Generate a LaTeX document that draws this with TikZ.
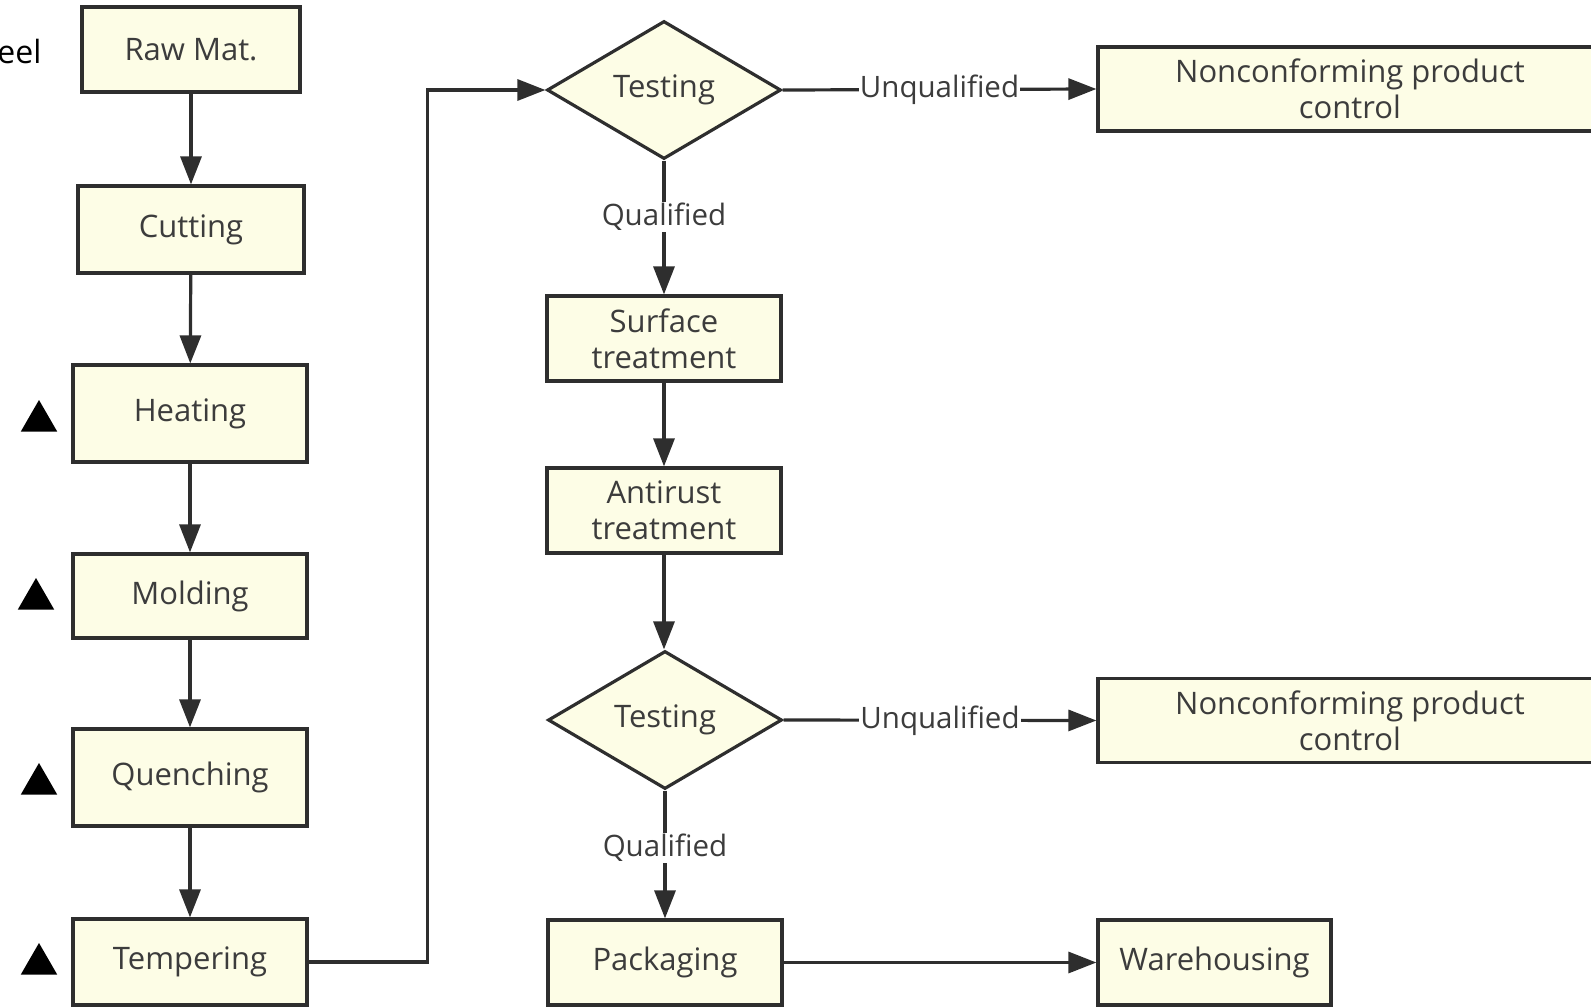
\documentclass[tikz,border=0pt]{standalone}
\usepackage{fontspec}
\setmainfont{Open Sans}
\usepackage{xcolor}
\usetikzlibrary{positioning, arrows.meta, shapes.geometric}
\definecolor{pFill}{HTML}{FDFDE6}
\definecolor{pLine}{HTML}{2E2E2E}
\definecolor{pInk}{HTML}{3C3C3C}
\tikzset{
  procbox/.style={draw=pLine, line width=3.2pt, fill=pFill, inner sep=2pt,
    align=center, text=pInk, font=\fontsize{31}{36}\selectfont},
  checkbox/.style={procbox, diamond, aspect=1.7, minimum width=234pt, minimum height=138pt, inner sep=0pt},
  flowlbl/.style={fill=white, inner sep=1pt, text=pInk, font=\fontsize{29.5}{34}\selectfont},
  keymark/.style={regular polygon, regular polygon sides=3, fill=black, minimum size=42pt, inner sep=0pt},
}

\begin{document}
\begin{tikzpicture}[x=1pt, y=-1pt, >={Triangle[length=28pt, width=21pt]},
    arr/.style={->, line width=3.2pt, draw=pLine}]
  \useasboundingbox (0,0) rectangle (1591,1007);
  % forming line
  \node[anchor=east, font=\fontsize{32}{38}\selectfont] (steel) at (45,51) {Steel};
  \node[procbox, minimum width=218pt, minimum height=85pt] (raw) at (191,49.5) {Raw Mat.};
  \node[procbox, minimum width=226pt, minimum height=87pt] (cut) at (191,229.5) {Cutting};
  \node[procbox, minimum width=234pt, minimum height=97pt] (heat) at (190,413.5) {Heating};
  \node[procbox, minimum width=234pt, minimum height=84pt] (mold) at (190,596) {Molding};
  \node[procbox, minimum width=234pt, minimum height=97pt] (quench) at (190,777.5) {Quenching};
  \node[procbox, minimum width=234pt, minimum height=86pt] (temper) at (190,962) {Tempering};
  \node[keymark] (k1) at (39,421) {};
  \node[keymark] (k2) at (36,599) {};
  \node[keymark] (k3) at (39,784) {};
  \node[keymark] (k4) at (39,964) {};
  % inspection line
  \node[checkbox] (test1) at (664,90) {Testing};
  \node[procbox, minimum width=234pt, minimum height=85pt] (surf) at (664,338.5) {Surface\\treatment};
  \node[procbox, minimum width=234pt, minimum height=85pt] (rust) at (664,510.5) {Antirust\\treatment};
  \node[checkbox] (test2) at (665,720) {Testing};
  \node[procbox, minimum width=234pt, minimum height=85pt] (pack) at (665,962.5) {Packaging};
  \node[procbox, minimum width=504pt, minimum height=84pt] (nc1) at (1350,89) {Nonconforming product\\control};
  \node[procbox, minimum width=504pt, minimum height=84pt] (nc2) at (1350,720.5) {Nonconforming product\\control};
  \node[procbox, minimum width=233pt, minimum height=85pt] (store) at (1214.5,962.5) {Warehousing};
  \draw[arr] (raw) -- (cut);
  \draw[arr] (cut) -- (heat);
  \draw[arr] (heat) -- (mold);
  \draw[arr] (mold) -- (quench);
  \draw[arr] (quench) -- (temper);
  \draw[arr] (temper.east) -- ++(119,0) |- (test1.west);
  \draw[arr] (test1.east) -- (nc1.west) node[flowlbl, pos=0.5] {Unqualified};
  \draw[arr] (test1.south) -- (surf.north) node[flowlbl, pos=0.42] {Qualified};
  \draw[arr] (surf) -- (rust);
  \draw[arr] (rust.south) -- (rust.south |- test2.north);
  \draw[arr] (test2.east) -- (nc2.west) node[flowlbl, pos=0.5] {Unqualified};
  \draw[arr] (test2.south) -- (pack.north) node[flowlbl, pos=0.45] {Qualified};
  \draw[arr] (pack) -- (store);
\end{tikzpicture}
\end{document}
